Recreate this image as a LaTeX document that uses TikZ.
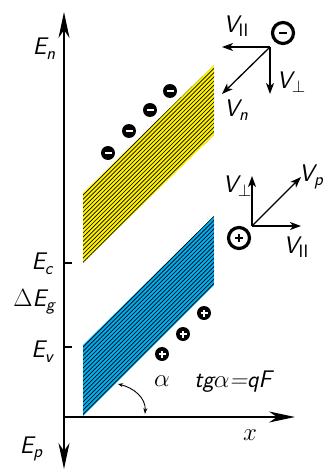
\documentclass[tikz,border=0pt]{standalone}
\usetikzlibrary{arrows.meta}
\tikzset{
  lbl/.style={inner sep=0pt, font=\fontsize{24}{26}\selectfont\sffamily\itshape},
  axis/.style={line width=1.4pt, -{Stealth[length=26pt,width=11pt,inset=8pt]}},
  vec/.style={line width=1.3pt, -{Stealth[length=11pt,width=8pt,inset=3pt]}},
  tick/.style={line width=2pt},
  stripe/.style={line width=0.65pt, black},
  carrier/.style={circle, fill=black, minimum size=14pt, inner sep=0pt},
  bigcarrier/.style={circle, draw=black, line width=3.2pt, fill=white, minimum size=21pt, inner sep=0pt},
}
\newcommand{\sub}[1]{\raisebox{-0.45ex}{\fontsize{18}{19}\selectfont #1}}
\begin{document}
\begin{tikzpicture}[x=1pt,y=-1pt]
\useasboundingbox (0,0) rectangle (324,471);
% key coordinates
\coordinate (O) at (64,417);
\coordinate (Ytop) at (64,12);
\coordinate (Ybot) at (64,469);
\coordinate (Xend) at (295,417);
% yellow band (conduction band)
\begin{scope}
  \clip (83,193) -- (214,65) -- (214,135) -- (83,263) -- cycle;
  \fill[yellow] (83,193) -- (214,65) -- (214,135) -- (83,263) -- cycle;
  \foreach \c in {191,195.2,...,267} \draw[stripe] (80,\c+3) -- (217,\c-134);
\end{scope}
% cyan band (valence band)
\begin{scope}
  \clip (83,345) -- (214,216) -- (214,285) -- (83,416) -- cycle;
  \fill[cyan] (83,345) -- (214,216) -- (214,285) -- (83,416) -- cycle;
  \foreach \c in {343,347.2,...,419} \draw[stripe] (80,\c+3) -- (217,\c-134);
\end{scope}
% axes
\draw[axis] (O) -- (Ytop);
\draw[axis] (O) -- (Ybot);
\draw[axis] (O) -- (Xend);
% ticks
\coordinate (Ec) at (64,263); \coordinate (Ec2) at (72,263);
\coordinate (Ev) at (64,347); \coordinate (Ev2) at (72,347);
\draw[tick] (Ec) -- (Ec2);
\draw[tick] (Ev) -- (Ev2);
% axis labels
\node[lbl] (En) at (44,49) {E\sub{n}};
\node[lbl] (EcL) at (42,264) {E\sub{c}};
\node[lbl] (Eg) at (34,302) {$\Delta$E\sub{g}};
\node[lbl] (EvL) at (42,352) {E\sub{v}};
\node[lbl] (Ep) at (31,449) {E\sub{p}};
\node[lbl] (xl) at (250,435) {$x$};
% electrons
\foreach \p/\n in {{(108,153)}/e1,{(129,131)}/e2,{(150,110)}/e3,{(170,91)}/e4}{
  \node[carrier] (\n) at \p {};
  \draw[white, line width=1.6pt] ([xshift=-3.5pt]\n.center) -- ([xshift=3.5pt]\n.center);
}
% holes
\foreach \p/\n in {{(162,354)}/h1,{(183,334)}/h2,{(204,313)}/h3}{
  \node[carrier] (\n) at \p {};
  \draw[white, line width=1.6pt] ([xshift=-3.5pt]\n.center) -- ([xshift=3.5pt]\n.center);
  \draw[white, line width=1.6pt] ([yshift=-3.5pt]\n.center) -- ([yshift=3.5pt]\n.center);
}
% big electron with velocities
\node[bigcarrier] (E) at (283,33) {};
\draw[line width=2.5pt] ([xshift=-4pt]E.center) -- ([xshift=4pt]E.center);
\coordinate (eo) at (270,47);
\coordinate (epar) at (222,47);
\coordinate (eperp) at (270,94);
\coordinate (en) at (222,94);
\draw[vec] (eo) -- (epar);
\draw[vec] (eo) -- (eperp);
\draw[vec] (eo) -- (en);
\node[lbl] (Vpar1) at (236,26) {V\sub{\upshape II}};
\node[lbl] (Vperp1) at (291,82) {V\sub{$\perp$}};
\node[lbl] (Vn) at (236,110) {V\sub{n}};
% big hole with velocities
\node[bigcarrier] (H) at (239,238) {};
\draw[line width=2.5pt] ([xshift=-4pt]H.center) -- ([xshift=4pt]H.center);
\draw[line width=2.5pt] ([yshift=-4pt]H.center) -- ([yshift=4pt]H.center);
\coordinate (ho) at (252,226);
\coordinate (hperp) at (252,176);
\coordinate (hp) at (301,177);
\coordinate (hpar) at (301,226);
\draw[vec] (ho) -- (hperp);
\draw[vec] (ho) -- (hp);
\draw[vec] (ho) -- (hpar);
\node[lbl] (Vperp2) at (237,186) {V\sub{$\perp$}};
\node[lbl, anchor=east] (Vp) at (323,177) {V\sub{p}};
\node[lbl] (Vpar2) at (296,247) {V\sub{\upshape II}};
% angle
\coordinate (a1) at (118,384);
\coordinate (a2) at (145,414);
\draw[line width=0.9pt, {Stealth[length=5pt,width=4pt]}-{Stealth[length=6pt,width=4pt]}] (a1) .. controls (134,388) and (146,398) .. (a2);
\node[lbl] (alpha) at (162,381) {$\alpha$};
\node[lbl] (tg) at (233,382) {tg$\alpha$=qF};
\end{tikzpicture}
\end{document}
